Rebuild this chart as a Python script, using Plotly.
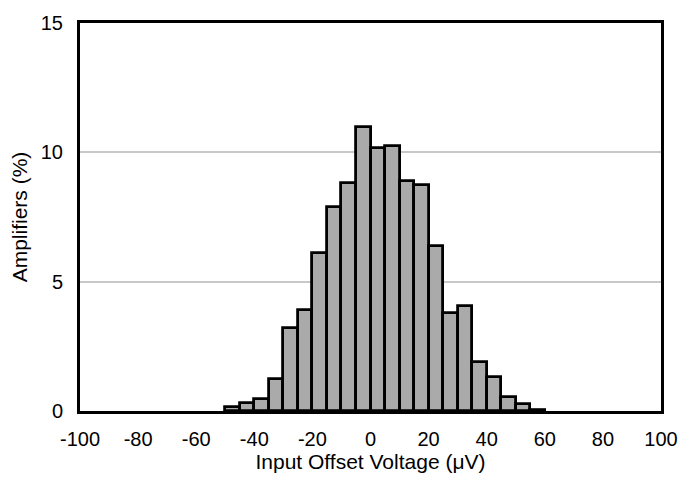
import plotly.graph_objects as go

bin_start = [-50, -45, -40, -35, -30, -25, -20, -15, -10, -5, 0,
             5, 10, 15, 20, 25, 30, 35, 40, 45, 50, 55]
percent = [0.14, 0.3, 0.46, 1.22, 3.2, 3.89, 6.12, 7.88, 8.8, 10.98, 10.17,
           10.24, 8.9, 8.74, 6.39, 3.79, 4.07, 1.88, 1.3, 0.56, 0.28, 0.05]
bin_width = 5
x_ticks = [-100, -80, -60, -40, -20, 0, 20, 40, 60, 80, 100]
x_tick_text = ["-100", "-80", "-60", "-40", "-20", "0", "20", "40", "60", "80", "100"]
y_ticks = [0, 5, 10, 15]

fig = go.Figure()
fig.add_trace(go.Bar(
    x=bin_start, y=percent, width=bin_width, offset=0,
    marker=dict(color="#aaaaaa", line=dict(color="black", width=2.8)),
))

tick_font = dict(family="Liberation Sans, Arial, sans-serif", size=20, color="black")
title_font = dict(family="Liberation Sans, Arial, sans-serif", size=21, color="black")
fig.update_layout(
    width=691, height=480,
    margin=dict(l=80, r=30, t=15, b=69),
    paper_bgcolor="white", plot_bgcolor="white",
    showlegend=False, bargap=0, font=tick_font,
    xaxis=dict(range=[-100, 100], tickvals=x_ticks, ticktext=x_tick_text,
               showgrid=False, tickfont=tick_font,
               showline=True, mirror=True, linecolor="black", linewidth=3,
               zeroline=False, ticks="", ticklabelstandoff=8,
               title=dict(text="Input Offset Voltage (μV)", standoff=2, font=title_font)),
    yaxis=dict(range=[0, 15], tickvals=y_ticks, showgrid=True, tickfont=tick_font,
               gridcolor="#c8c8c8", gridwidth=1.5,
               showline=True, mirror=True, linecolor="black", linewidth=3,
               zeroline=False, ticks="", ticklabelstandoff=10,
               title=dict(text="Amplifiers (%)", standoff=8, font=title_font)),
)
fig.write_html("out.html", config={"displayModeBar": False},
               post_script="document.body.style.margin='0';")
